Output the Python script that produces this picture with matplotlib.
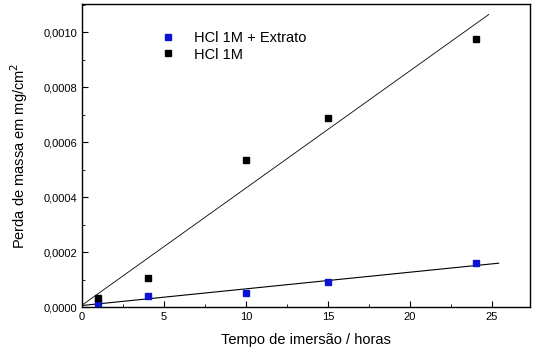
import numpy as np
from matplotlib import pyplot as plt
from matplotlib.ticker import MultipleLocator, FuncFormatter

# tempo de imersao (horas)
tempo = [1, 4, 10, 15, 24]
# perda de massa (mg/cm2)
perda_extrato = [0.000015, 0.000040, 0.000052, 0.000090, 0.000160]
perda_hcl = [0.000035, 0.000105, 0.000535, 0.000690, 0.000975]

plt.rcParams['font.family'] = ['Liberation Sans', 'DejaVu Sans']

fig = plt.figure(figsize=(5.40, 3.51), dpi=100)
ax = fig.add_axes([0.152, 0.125, 0.829, 0.864])

x = np.array(tempo)

# ajustes lineares
a1, b1 = np.polyfit(x, perda_extrato, 1)
a2, b2 = np.polyfit(x, perda_hcl, 1)
xf1 = np.array([0, 25.4])
xf2 = np.array([0, 24.8])
ax.plot(xf1, a1 * xf1 + b1, color='black', lw=0.8)
ax.plot(xf2, a2 * xf2 + b2, color='black', lw=0.6)

ax.plot(x, perda_extrato, 's', color='#0a14d2', ms=5, label='HCl 1M + Extrato', zorder=3)
ax.plot(x, perda_hcl, 's', color='black', ms=5, label='HCl 1M', zorder=3)

ax.set_xlim(0, 27.3)
ax.set_ylim(0, 0.001104)
ax.xaxis.set_major_locator(MultipleLocator(5))
ax.xaxis.set_minor_locator(MultipleLocator(2.5))
ax.yaxis.set_major_locator(MultipleLocator(0.0002))
ax.yaxis.set_minor_locator(MultipleLocator(0.0001))
ax.yaxis.set_major_formatter(FuncFormatter(lambda v, p: ('%.4f' % v).replace('.', ',')))
ax.tick_params(which='both', direction='in', labelsize=8)
ax.tick_params(which='major', length=4)
ax.tick_params(which='minor', length=2.5)
for s in ax.spines.values():
    s.set_linewidth(1.0)

ax.set_xlabel('Tempo de imersão / horas', fontsize=10.5, labelpad=8)
ax.set_ylabel('Perda de massa em mg/cm$^2$', fontsize=10.5, labelpad=10)

ax.legend(loc='upper left', bbox_to_anchor=(0.13, 0.955), frameon=False,
          fontsize=10.5, handletextpad=0.8, labelspacing=0.2)

fig.savefig('out.png', dpi=100)
